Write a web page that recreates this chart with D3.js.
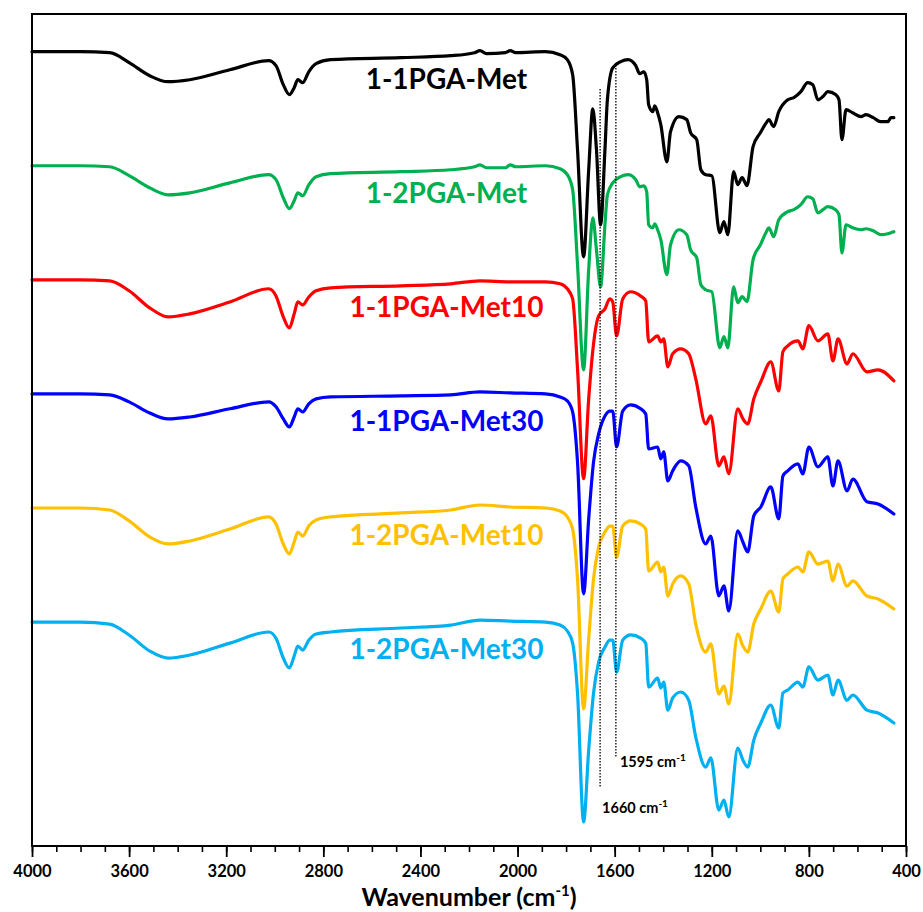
<!DOCTYPE html>
<html>
<head>
<meta charset="utf-8">
<script src="https://cdn.jsdelivr.net/npm/d3@7/dist/d3.min.js"></script>
<style>
body { margin: 0; background: #ffffff; }
text { font-family: Lato, "Open Sans", sans-serif; font-weight: bold; }
</style>
</head>
<body>
<div id="chart"></div>
<script>
// wavenumbers (cm-1) read for 1-1PGA-Met and 1-2PGA-Met
var wavenumbersA = [ 4000, 3800, 3680, 3600, 3515, 3440, 3350, 3185, 3025, 2995,
                     2965, 2940, 2920, 2905, 2885, 2860, 2830, 2770, 2480, 2275,
                     2177, 2155, 2128, 2050, 2030, 2008, 1885, 1825, 1795, 1773,
                     1753, 1728, 1707, 1690, 1675, 1658, 1640, 1630, 1608, 1575,
                     1545, 1513, 1497, 1480, 1468, 1460, 1443, 1435, 1423, 1410,
                     1385, 1370, 1335, 1303, 1287, 1262, 1245, 1225, 1200, 1167,
                     1150, 1134, 1110, 1093, 1075, 1055, 1030, 1000, 975, 965,
                     945, 924, 887, 862, 833, 805, 784, 763, 742, 722,
                     690, 676, 664, 647, 620, 585, 565, 535, 505, 475,
                     462, 450 ];

// wavenumbers (cm-1) read for the Met10 / Met30 samples
var wavenumbersB = [ 4000, 3800, 3680, 3600, 3515, 3440, 3350, 3185, 3025, 2995,
                     2965, 2940, 2920, 2905, 2885, 2860, 2830, 2770, 2480, 2275,
                     2155, 2030, 1885, 1825, 1795, 1773, 1753, 1728, 1707, 1687,
                     1666, 1640, 1620, 1608, 1592, 1567, 1534, 1493, 1472, 1460,
                     1423, 1410, 1398, 1381, 1361, 1328, 1295, 1266, 1225, 1204,
                     1171, 1150, 1130, 1093, 1072, 1052, 1027, 998, 957, 924,
                     907, 887, 845, 825, 800, 763, 722, 701, 680, 643,
                     619, 561, 515, 450 ];

// transmittance (a.u.)
var t11Met = [ 100, 100, 99.6, 95.6, 90.3, 87.9, 88.7, 92.7, 96.4, 94.4,
               86.7, 82.7, 85.5, 88.7, 87.5, 91.9, 95.2, 96.8, 97.6, 98.4,
               99.6, 100.4, 99.2, 99.6, 100.4, 99.6, 100, 98.8, 96.8, 90.7,
               60.5, 17.3, 52.4, 77.0, 60.5, 30.2, 60.5, 80.6, 93.5, 96.0,
               96.8, 94.4, 91.1, 91.9, 88.7, 78.6, 75.8, 78.2, 75.4, 70.6,
               55.6, 67.7, 73.8, 72.6, 67.3, 64.5, 52.4, 50.4, 50.0, 27.0,
               31.5, 26.2, 51.6, 46.4, 49.2, 46.0, 61.7, 67.3, 71.4, 72.6,
               69.8, 75.8, 80.6, 81.5, 83.9, 87.5, 86.7, 80.6, 81.9, 83.9,
               82.7, 80.6, 64.5, 76.6, 75.4, 73.8, 74.6, 73.4, 71.8, 71.8,
               73.4, 73.4 ];

var t12Met = [ 100, 100, 99.6, 96.0, 91.1, 88.3, 89.1, 93.1, 96.4, 94.4,
               87.1, 82.7, 85.9, 89.1, 87.9, 92.3, 95.6, 96.8, 97.6, 98.4,
               99.6, 100.4, 99.2, 99.2, 100.4, 99.6, 100, 98.8, 96.4, 90.3,
               60.1, 17.7, 58.1, 79.0, 66.1, 51.2, 76.2, 88.3, 93.1, 95.6,
               96.4, 94.4, 91.5, 91.9, 89.5, 76.2, 75.0, 76.6, 74.2, 70.2,
               56.1, 68.1, 74.2, 72.2, 66.1, 62.9, 52.0, 50.0, 49.2, 26.6,
               31.1, 26.6, 51.2, 44.8, 47.2, 45.2, 62.1, 68.1, 73.4, 75.0,
               71.4, 78.2, 81.5, 82.3, 84.3, 87.5, 86.7, 81.0, 82.3, 83.5,
               82.3, 80.2, 64.9, 76.2, 75.0, 74.2, 74.6, 73.8, 72.2, 72.6,
               73.0, 73.4 ];

var t11Met10 = [ 100, 100, 99.6, 95.6, 88.7, 85.1, 86.3, 91.1, 96.4, 93.5,
                 85.1, 80.6, 86.3, 91.1, 89.9, 93.1, 95.6, 96.8, 97.6, 98.4,
                 99.6, 99.2, 99.2, 98.4, 96.4, 92.3, 64.1, 19.8, 52.0, 74.2,
                 85.5, 88.3, 92.3, 91.1, 77.4, 92.3, 95.2, 93.5, 91.5, 75.0,
                 77.4, 75.0, 76.2, 64.9, 70.2, 72.2, 70.2, 60.1, 41.9, 45.2,
                 25.0, 28.6, 21.8, 48.0, 44.0, 41.9, 52.0, 58.9, 66.9, 55.2,
                 71.0, 73.4, 75.4, 72.2, 81.5, 75.4, 78.2, 67.3, 76.2, 66.1,
                 70.2, 62.9, 63.7, 59.3 ];

var t11Met30 = [ 100, 100, 99.6, 96.8, 92.3, 89.9, 90.7, 94.0, 96.8, 94.8,
                 89.9, 86.7, 90.7, 94.0, 92.7, 96.0, 98.0, 98.8, 99.2, 99.6,
                 100.8, 100.4, 100, 98.8, 97.2, 92.7, 72.6, 19.4, 49.6, 72.6,
                 83.9, 91.1, 93.1, 93.1, 78.6, 93.1, 95.6, 94.0, 91.9, 77.8,
                 78.6, 73.8, 76.6, 64.9, 69.0, 73.0, 71.0, 54.4, 39.5, 42.7,
                 18.6, 22.6, 12.5, 44.8, 40.3, 36.3, 50.8, 54.4, 62.5, 49.6,
                 66.9, 69.0, 71.8, 67.7, 78.6, 70.6, 74.6, 62.9, 73.0, 60.9,
                 65.7, 56.5, 55.6, 51.6 ];

var t12Met10 = [ 100, 100, 99.2, 94.8, 88.3, 85.5, 86.7, 91.5, 96.4, 93.5,
                 85.5, 81.5, 86.3, 90.3, 88.7, 92.7, 95.2, 96.4, 98.0, 99.2,
                 101.2, 100.4, 100, 98.8, 96.4, 91.5, 71.4, 19.0, 47.2, 71.4,
                 84.3, 90.3, 92.7, 92.7, 80.2, 92.7, 94.8, 93.5, 91.5, 74.6,
                 78.2, 74.2, 76.2, 64.5, 69.4, 72.6, 69.4, 53.2, 41.9, 45.2,
                 25.0, 28.2, 21.0, 49.2, 44.4, 41.9, 53.2, 59.3, 66.5, 58.1,
                 71.4, 73.4, 76.2, 74.2, 82.3, 77.4, 78.6, 70.6, 77.4, 68.5,
                 70.6, 64.5, 63.3, 59.3 ];

var t12Met30 = [ 100, 100, 99.2, 94.8, 88.3, 85.5, 86.7, 91.5, 96.0, 93.5,
                 85.5, 81.5, 86.3, 90.3, 88.7, 92.7, 95.2, 96.0, 97.6, 98.8,
                 100.8, 100.4, 100, 98.8, 96.4, 91.5, 71.4, 19.4, 48.4, 71.4,
                 83.9, 89.9, 92.7, 92.7, 79.8, 92.7, 94.8, 93.5, 91.5, 73.8,
                 77.4, 73.4, 75.8, 64.5, 69.4, 71.8, 68.5, 53.6, 41.5, 45.2,
                 24.2, 28.2, 21.4, 49.2, 44.4, 41.5, 52.4, 59.3, 66.5, 57.3,
                 71.4, 72.6, 75.8, 73.8, 81.9, 76.6, 78.6, 70.6, 76.6, 68.5,
                 70.6, 64.5, 63.3, 59.3 ];

var seriesNames   = [ '1-1PGA-Met', '1-2PGA-Met', '1-1PGA-Met10', '1-1PGA-Met30', '1-2PGA-Met10', '1-2PGA-Met30' ];
var seriesOffsets = [ 230, 184, 138, 92, 46, 0 ];
var xTicks        = [ 4000, 3600, 3200, 2800, 2400, 2000, 1600, 1200, 800, 400 ];
var markers       = [ 1660, 1595 ];

// namespace
var ftir = {};

ftir.colors = [ '#000000', '#00b050', '#ff0000', '#0000ff', '#ffc000', '#00b0f0' ];

// render
ftir.render = function( root ) {
    var size = { width: 923, height: 912 };
    var plot = { left: 32, top: 14, right: 906, bottom: 846 };

    var svg = d3.select( root )
                .append( 'svg' )
                .attr( 'width', size.width )
                .attr( 'height', size.height );

    var x = d3.scaleLinear().domain( [ 4000, 400 ] ).range( [ plot.left, plot.right ] );
    var y = d3.scaleLinear().domain( [ 9.7, 345.2 ] ).range( [ plot.bottom, plot.top ] );

    var series = ftir.createSeries();
    ftir.drawLines( svg, series, x, y );
    ftir.drawLabels( svg, series, x, y );
    ftir.drawMarkers( svg, x, y );
    ftir.drawAxis( svg, x, plot );
    ftir.drawFrame( svg, plot );
}

// create series
ftir.createSeries = function() {
    var values = [ t11Met, t12Met, t11Met10, t11Met30, t12Met10, t12Met30 ];
    var grids  = [ wavenumbersA, wavenumbersA, wavenumbersB, wavenumbersB, wavenumbersB, wavenumbersB ];
    var array = [];
    for( var i = 0; i < seriesNames.length; i++ ) {
        var points = grids[ i ].map( function( w, j ) {
            return { w: w, t: values[ i ][ j ] };
        });
        array.push( {
            name: seriesNames[ i ],
            offset: seriesOffsets[ i ],
            color: ftir.colors[ i ],
            points: points
        });
    }
    return array;
}

// draw lines
ftir.drawLines = function( svg, series, x, y ) {
    series.forEach( function( s ) {
        var line = d3.line()
                     .x( function( d ) { return x( d.w ); } )
                     .y( function( d ) { return y( d.t + s.offset ); } )
                     .curve( d3.curveMonotoneX );
        svg.append( 'path' )
           .datum( s.points )
           .attr( 'd', line )
           .attr( 'fill', 'none' )
           .attr( 'stroke', s.color )
           .attr( 'stroke-width', 3.2 )
           .attr( 'stroke-linejoin', 'round' )
           .attr( 'stroke-linecap', 'round' );
    });
}

// draw labels
ftir.drawLabels = function( svg, series, x, y ) {
    series.forEach( function( s ) {
        svg.append( 'text' )
           .attr( 'x', x( 2293 ) )
           .attr( 'y', y( s.offset + 85 ) )
           .attr( 'text-anchor', 'middle' )
           .attr( 'font-size', 28 )
           .attr( 'fill', s.color )
           .text( s.name );
    });
}

// draw dotted marker lines
ftir.drawMarkers = function( svg, x, y ) {
    var spans = [ [ 315, 33.5 ], [ 324.6, 45.6 ] ];
    var labelY = [ 813, 767 ];
    var labelDx = [ 2, 4 ];

    markers.forEach( function( m, i ) {
        svg.append( 'line' )
           .attr( 'x1', x( m ) )
           .attr( 'x2', x( m ) )
           .attr( 'y1', y( spans[ i ][ 0 ] ) )
           .attr( 'y2', y( spans[ i ][ 1 ] ) )
           .attr( 'stroke', 'black' )
           .attr( 'stroke-width', 1.3 )
           .attr( 'stroke-dasharray', '1.5,1.5' );

        var text = svg.append( 'text' )
                      .attr( 'x', x( m ) + labelDx[ i ] )
                      .attr( 'y', labelY[ i ] )
                      .attr( 'font-size', 14.5 )
                      .attr( 'fill', '#000' )
                      .text( m + ' cm' );
        text.append( 'tspan' )
            .attr( 'dy', -6 )
            .attr( 'font-size', 10 )
            .text( '-1' );
    });
}

// draw axis
ftir.drawAxis = function( svg, x, plot ) {
    var minor = d3.axisBottom( x )
                  .tickValues( d3.range( 4000, 399, -100 ) )
                  .tickSize( 6 )
                  .tickFormat( '' );
    var gMinor = svg.append( 'g' )
                    .attr( 'transform', 'translate(0,' + plot.bottom + ')' )
                    .call( minor );
    gMinor.select( '.domain' ).remove();
    gMinor.selectAll( 'line' ).attr( 'stroke-width', 1.6 );

    var major = d3.axisBottom( x )
                  .tickValues( xTicks )
                  .tickSize( 11 )
                  .tickPadding( 8 )
                  .tickFormat( d3.format( 'd' ) );
    var gMajor = svg.append( 'g' )
                    .attr( 'transform', 'translate(0,' + plot.bottom + ')' )
                    .call( major );
    gMajor.select( '.domain' ).remove();
    gMajor.selectAll( 'line' ).attr( 'stroke-width', 1.8 );
    gMajor.selectAll( 'text' )
          .attr( 'font-size', 16.5 )
          .attr( 'font-family', 'Lato, sans-serif' )
          .attr( 'font-weight', 'bold' )
          .attr( 'fill', '#000' );

    var title = svg.append( 'text' )
                   .attr( 'x', ( plot.left + plot.right ) / 2 )
                   .attr( 'y', 906 )
                   .attr( 'text-anchor', 'middle' )
                   .attr( 'font-size', 25 )
                   .text( 'Wavenumber (cm' );
    title.append( 'tspan' )
         .attr( 'dy', -10 )
         .attr( 'font-size', 15 )
         .text( '-1' );
    title.append( 'tspan' )
         .attr( 'dy', 10 )
         .text( ')' );
}

// draw frame
ftir.drawFrame = function( svg, plot ) {
    svg.append( 'rect' )
       .attr( 'x', plot.left )
       .attr( 'y', plot.top )
       .attr( 'width', plot.right - plot.left )
       .attr( 'height', plot.bottom - plot.top )
       .attr( 'fill', 'none' )
       .attr( 'stroke', 'black' )
       .attr( 'stroke-width', 2 );
}

ftir.render( '#chart' );
</script>
</body>
</html>
